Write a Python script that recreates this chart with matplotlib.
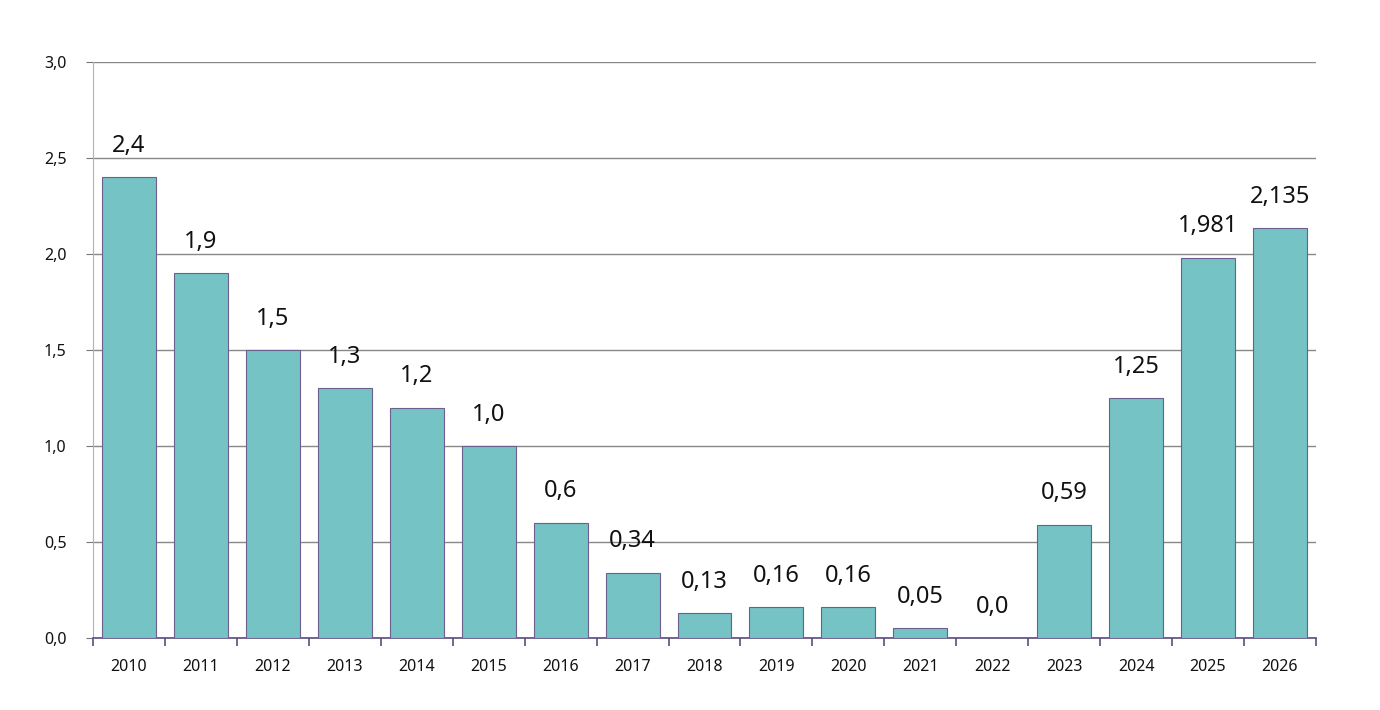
import matplotlib.pyplot as plt
import numpy as np

years = [str(y) for y in range(2010, 2027)]
values = [2.4, 1.9, 1.5, 1.3, 1.2, 1.0, 0.6, 0.34, 0.13, 0.16, 0.16, 0.05, 0.0, 0.59, 1.25, 1.981, 2.135]
labels = ["2,4", "1,9", "1,5", "1,3", "1,2", "1,0", "0,6", "0,34", "0,13", "0,16", "0,16",
          "0,05", "0,0", "0,59", "1,25", "1,981", "2,135"]
yticks = [0.0, 0.5, 1.0, 1.5, 2.0, 2.5, 3.0]

plt.rcParams['font.family'] = ['Noto Sans', 'DejaVu Sans']

fig = plt.figure(figsize=(13.8, 7.1), dpi=100)
ax = fig.add_axes([0.0674, 0.1014, 0.8862, 0.8113])

x = np.arange(len(years))
ax.bar(x, values, width=0.75, color="#76c3c6", edgecolor="#6a5f8e", linewidth=0.8, zorder=3)

for xi, v, lab in zip(x, values, labels):
    ax.annotate(lab, (xi, v), xytext=(0, 14), textcoords="offset points",
                ha="center", va="bottom", fontsize=17, color="#111111")

ax.set_xlim(-0.5, len(years) - 0.5)
ax.set_ylim(0, 3.0)
ax.set_yticks(yticks)
ax.set_yticklabels([f"{t:.1f}".replace(".", ",") for t in yticks], fontsize=11.5, color="#111111")
ax.tick_params(axis="y", length=5, color="#777777", pad=14)
ax.yaxis.grid(True, color="#888888", linewidth=1.0, zorder=0)

ax.set_xticks(x)
ax.set_xticklabels(years, fontsize=11.5, color="#111111")
ax.tick_params(axis="x", which="major", length=0, pad=15)
ax.set_xticks(np.arange(-0.5, len(years)), minor=True)
ax.tick_params(axis="x", which="minor", length=6, width=1.2, color="#5b4d80", direction="out")

for s in ["top", "right"]:
    ax.spines[s].set_visible(False)
ax.spines["left"].set_color("#b9a8d3")
ax.spines["bottom"].set_color("#5b4d80")
ax.spines["bottom"].set_linewidth(1.2)

fig.savefig("out.png", dpi=100)
